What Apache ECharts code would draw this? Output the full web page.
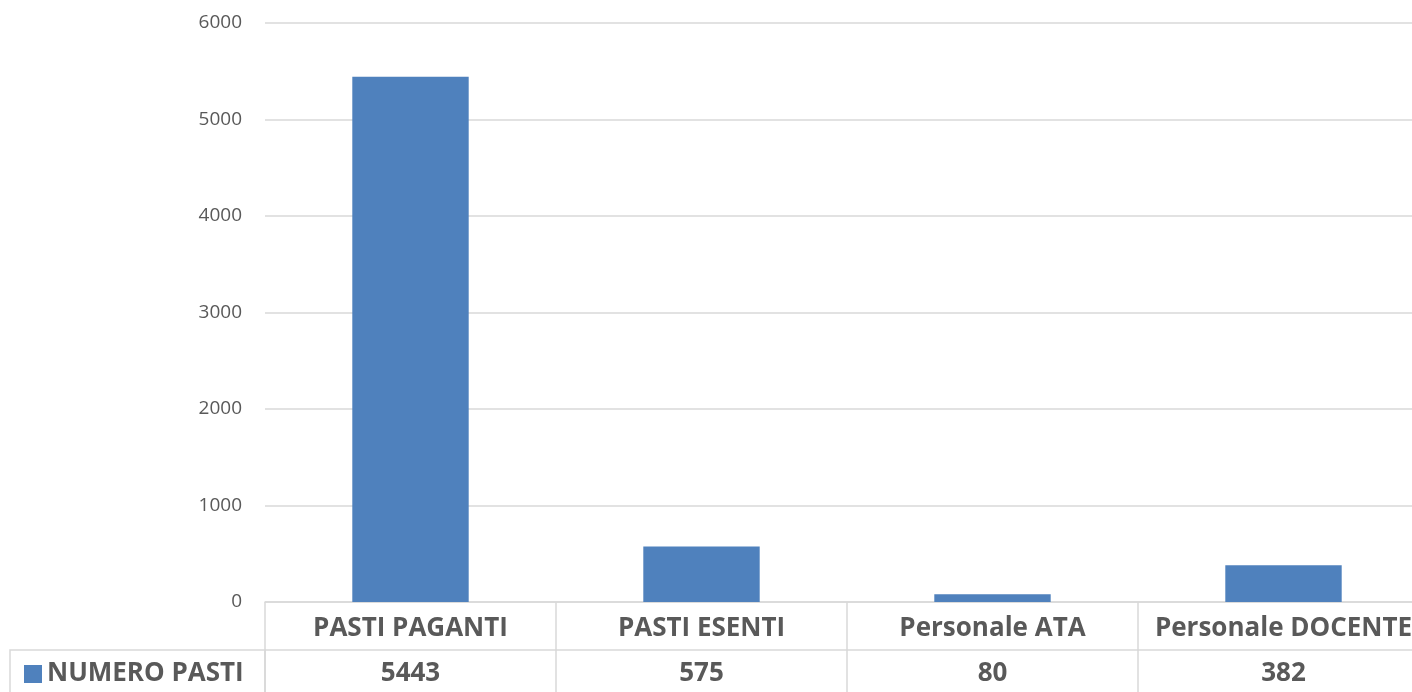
<!DOCTYPE html>
<html>
<head>
<meta charset="utf-8">
<script src="https://cdn.jsdelivr.net/npm/echarts@6/dist/echarts.min.js"></script>
<style>
html,body{margin:0;padding:0;background:#fff;overflow:hidden;width:1412px;height:692px;}
#c{width:1429px;height:692px;}
</style>
</head>
<body>
<div id="c"></div>
<script>
var categories = ['PASTI PAGANTI', 'PASTI ESENTI', 'Personale ATA', 'Personale DOCENTE'];
var seriesName = 'NUMERO PASTI';
var values = [5443, 575, 80, 382];
var yTicks = { min: 0, max: 6000, interval: 1000 };

var FONT = 'Open Sans';
var TXT = '#595959';
var LINE = '#d9d9d9';

var chart = echarts.init(document.getElementById('c'));
chart.setOption({
  animation: false,
  textStyle: { fontFamily: FONT },
  grid: { left: 265, top: 23, right: 0, bottom: 90, containLabel: false },
  legend: {
    data: [seriesName],
    left: 24, top: 661,
    padding: 0,
    icon: 'rect',
    itemWidth: 18, itemHeight: 18,
    itemGap: 8,
    textStyle: { fontFamily: FONT, fontSize: 26, fontWeight: 'bold', color: TXT },
    selectedMode: false
  },
  graphic: [{
    type: 'rect',
    shape: { x: 10, y: 650, width: 255, height: 60 },
    style: { fill: 'none', stroke: LINE, lineWidth: 1.5 },
    silent: true
  }],
  xAxis: [{
    type: 'category',
    data: categories,
    position: 'bottom',
    axisLine: { show: true, lineStyle: { color: LINE, width: 1.5 } },
    axisTick: { show: true, length: 90, lineStyle: { color: LINE, width: 1.5 } },
    axisLabel: { interval: 0, margin: 14, fontFamily: FONT, fontSize: 26, fontWeight: 'bold', color: TXT },
    splitLine: { show: false }
  }, {
    type: 'category',
    data: categories,
    position: 'bottom',
    offset: 48,
    axisLine: { show: true, lineStyle: { color: LINE, width: 1.5 } },
    axisTick: { show: false },
    axisLabel: { interval: 0, margin: 11, fontFamily: FONT, fontSize: 26, fontWeight: 'bold', color: TXT,
      formatter: function (v, i) { return String(values[i]); } },
    splitLine: { show: false }
  }],
  yAxis: {
    type: 'value',
    min: yTicks.min, max: yTicks.max, interval: yTicks.interval,
    axisLine: { show: false },
    axisTick: { show: false },
    axisLabel: { margin: 23, fontFamily: FONT, fontSize: 19, color: TXT,
      formatter: function (v) { return String(v); } },
    splitLine: { lineStyle: { color: LINE, width: 1.5 } }
  },
  series: [{
    name: seriesName,
    type: 'bar',
    data: values,
    barWidth: '40%',
    itemStyle: { color: '#4f81bd' }
  }]
});
</script>
</body>
</html>
